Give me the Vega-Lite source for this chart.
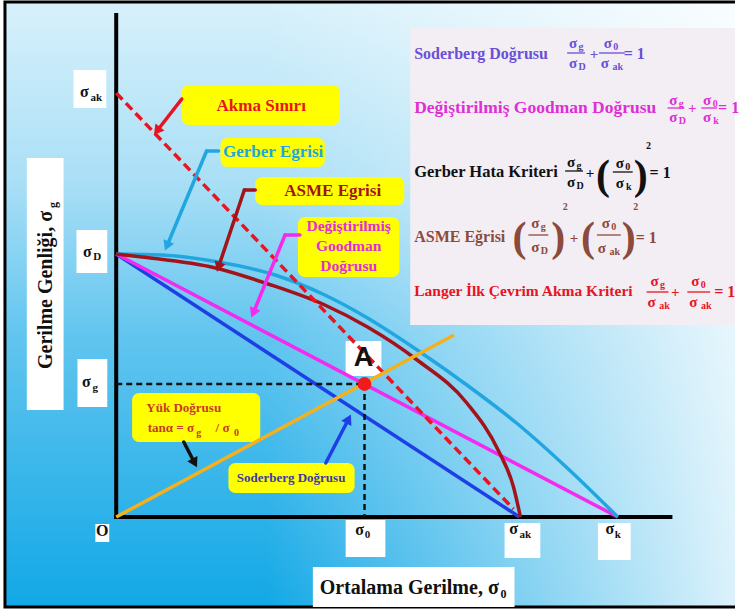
{
  "$schema": "https://vega.github.io/schema/vega-lite/v6.json",
  "width": 740,
  "height": 612,
  "padding": 0,
  "autosize": {"type": "fit", "contains": "padding"},
  "background": "#ffffff",
  "config": {
    "view": {"stroke": null},
    "text": {"font": "'Liberation Serif', 'Times New Roman', 'DejaVu Serif', serif", "fontWeight": "bold", "baseline": "middle", "align": "center"}
  },
  "encoding": {
    "x": {"field": "x", "type": "quantitative", "scale": {"domain": [-117, 623], "nice": false, "zero": false}, "axis": null},
    "y": {"field": "y", "type": "quantitative", "scale": {"domain": [-95, 517], "nice": false, "zero": false}, "axis": null}
  },
  "layer": [
    {
      "data": {"values": [{"x": -112, "x2": 640, "y": -90, "y2": 515}]},
      "mark": {"type": "rect", "clip": true, "fill": {"gradient": "linear", "x1": 0, "y1": 0, "x2": 0, "y2": 1, "stops": [
        {"offset": 0, "color": "#d8f1fb"}, {"offset": 0.3, "color": "#a9dff6"}, {"offset": 0.55, "color": "#62c5ef"}, {"offset": 1, "color": "#12a8e6"}]}},
      "encoding": {"x2": {"field": "x2"}, "y2": {"field": "y2"}}
    },
    {
      "data": {"values": [{"x": -112, "x2": 640, "y": -90, "y2": 515}]},
      "mark": {"type": "rect", "clip": true, "fill": {"gradient": "linear", "x1": 0, "y1": 0, "x2": 1, "y2": 0, "stops": [
        {"offset": 0, "color": "rgba(255,255,255,0)"}, {"offset": 0.35, "color": "rgba(255,255,255,0)"}, {"offset": 1, "color": "rgba(255,255,255,0.88)"}]}},
      "encoding": {"x2": {"field": "x2"}, "y2": {"field": "y2"}}
    },
    {
      "data": {"values": [{"x": 296, "x2": 640, "y": 192, "y2": 489}]},
      "mark": {"type": "rect", "clip": true, "fill": "#f2eef3"},
      "encoding": {"x2": {"field": "x2"}, "y2": {"field": "y2"}}
    },
    {
      "data": {"values": [{"x": -112, "x2": 640, "y": -90, "y2": 515}]},
      "mark": {"type": "rect", "clip": true, "fillOpacity": 0, "stroke": "#000000", "strokeWidth": 3},
      "encoding": {"x2": {"field": "x2"}, "y2": {"field": "y2"}}
    },
    {
      "data": {"values": [
        {"x": -43, "x2": -10, "y": 447, "y2": 409},
        {"x": -40, "x2": -9, "y": 287, "y2": 244},
        {"x": -39, "x2": -9, "y": 158, "y2": 110},
        {"x": -90, "x2": -53, "y": 359, "y2": 107},
        {"x": -21, "x2": -7, "y": -7, "y2": -25},
        {"x": 231, "x2": 271, "y": -3, "y2": -40},
        {"x": 391, "x2": 427, "y": -6, "y2": -41},
        {"x": 485, "x2": 518, "y": -6, "y2": -43},
        {"x": 198, "x2": 401, "y": -50, "y2": -90},
        {"x": 231, "x2": 267, "y": 176, "y2": 141}
      ]},
      "mark": {"type": "rect", "fill": "#ffffff"},
      "encoding": {"x2": {"field": "x2"}, "y2": {"field": "y2"}}
    },
    {
      "data": {"values": [
        {"box": "Akma", "x": 66, "x2": 225, "y": 432, "y2": 392},
        {"box": "Gerber", "x": 105, "x2": 210, "y": 379, "y2": 350},
        {"box": "ASME", "x": 140, "x2": 290, "y": 340, "y2": 312},
        {"box": "Goodman", "x": 183, "x2": 285, "y": 300, "y2": 240},
        {"box": "Yuk", "x": 16, "x2": 145, "y": 124, "y2": 75},
        {"box": "Soderberg", "x": 113, "x2": 240, "y": 54, "y2": 24}
      ]},
      "mark": {"type": "rect", "fill": "#ffff00", "cornerRadius": 7},
      "encoding": {"x2": {"field": "x2"}, "y2": {"field": "y2"}}
    },
    {
      "data": {"values": [
        {"x": 0, "y": -2, "x2": 0, "y2": 504},
        {"x": -2, "y": 0, "x2": 560, "y2": 0}
      ]},
      "mark": {"type": "rule", "color": "#000000", "strokeWidth": 4},
      "encoding": {"x2": {"field": "x2"}, "y2": {"field": "y2"}}
    },
    {
      "data": {"values": [
        {"series": "Soderberg", "ink": "soderberg", "x": 0, "y": 263},
        {"series": "Soderberg", "ink": "soderberg", "x": 406, "y": 0},
        {"series": "Goodman", "ink": "goodman", "x": 0, "y": 263},
        {"series": "Goodman", "ink": "goodman", "x": 505, "y": 0}
      ]},
      "mark": {"type": "line", "strokeWidth": 3.5},
      "encoding": {
        "color": {"field": "ink", "type": "nominal", "legend": null, "scale": {
          "domain": ["soderberg", "soderbergText", "soderbergLabel", "goodman", "goodmanText", "gerber", "asme", "asmeText", "langer", "load", "yuk", "dark"],
          "range": ["#1f3fe6", "#6b4fd8", "#3b3aa6", "#f22bef", "#df2ed6", "#21a6e0", "#a3131a", "#8b4a3b", "#e8141f", "#f5b11c", "#c83a2a", "#111111"]}},
        "detail": {"field": "series"}
      }
    },
    {
      "data": {"values": [
        {"series": "Gerber", "ink": "gerber", "x": 0, "y": 263},
        {"series": "Gerber", "ink": "gerber", "x": 46, "y": 262},
        {"series": "Gerber", "ink": "gerber", "x": 103, "y": 255},
        {"series": "Gerber", "ink": "gerber", "x": 160, "y": 242},
        {"series": "Gerber", "ink": "gerber", "x": 210, "y": 222},
        {"series": "Gerber", "ink": "gerber", "x": 253, "y": 199},
        {"series": "Gerber", "ink": "gerber", "x": 303, "y": 167},
        {"series": "Gerber", "ink": "gerber", "x": 353, "y": 132},
        {"series": "Gerber", "ink": "gerber", "x": 403, "y": 94},
        {"series": "Gerber", "ink": "gerber", "x": 453, "y": 50},
        {"series": "Gerber", "ink": "gerber", "x": 505, "y": 0},
        {"series": "ASME", "ink": "asme", "x": 0, "y": 263},
        {"series": "ASME", "ink": "asme", "x": 26, "y": 260},
        {"series": "ASME", "ink": "asme", "x": 100, "y": 249},
        {"series": "ASME", "ink": "asme", "x": 153, "y": 233},
        {"series": "ASME", "ink": "asme", "x": 210, "y": 212},
        {"series": "ASME", "ink": "asme", "x": 253, "y": 190},
        {"series": "ASME", "ink": "asme", "x": 303, "y": 157},
        {"series": "ASME", "ink": "asme", "x": 353, "y": 114},
        {"series": "ASME", "ink": "asme", "x": 385, "y": 66},
        {"series": "ASME", "ink": "asme", "x": 400, "y": 30},
        {"series": "ASME", "ink": "asme", "x": 407, "y": 0}
      ]},
      "mark": {"type": "line", "strokeWidth": 3.5, "interpolate": "monotone"},
      "encoding": {
        "color": {"field": "ink", "type": "nominal", "legend": null, "scale": {
          "domain": ["soderberg", "soderbergText", "soderbergLabel", "goodman", "goodmanText", "gerber", "asme", "asmeText", "langer", "load", "yuk", "dark"],
          "range": ["#1f3fe6", "#6b4fd8", "#3b3aa6", "#f22bef", "#df2ed6", "#21a6e0", "#a3131a", "#8b4a3b", "#e8141f", "#f5b11c", "#c83a2a", "#111111"]}},
        "detail": {"field": "series"}
      }
    },
    {
      "data": {"values": [
        {"series": "Langer", "x": 0, "y": 424},
        {"series": "Langer", "x": 400, "y": 8}
      ]},
      "mark": {"type": "line", "color": "#e8141f", "strokeWidth": 3.5, "strokeDash": [9, 5]},
      "encoding": {}
    },
    {
      "data": {"values": [{"x": 0, "y": 0, "x2": 340, "y2": 182}]},
      "mark": {"type": "rule", "color": "#f5b11c", "strokeWidth": 3.5},
      "encoding": {"x2": {"field": "x2"}, "y2": {"field": "y2"}}
    },
    {
      "data": {"values": [
        {"x": 0, "y": 133, "x2": 250, "y2": 133},
        {"x": 250, "y": 133, "x2": 250, "y2": 0}
      ]},
      "mark": {"type": "rule", "color": "#111111", "strokeWidth": 2.5, "strokeDash": [6, 4]},
      "encoding": {"x2": {"field": "x2"}, "y2": {"field": "y2"}}
    },
    {
      "data": {"values": [
        {"arrow": "akma", "ink": "langer", "x": 66, "y": 418, "x2": 41, "y2": 386},
        {"arrow": "gerber", "ink": "gerber", "x": 103, "y": 366, "x2": 91, "y2": 366},
        {"arrow": "gerber", "ink": "gerber", "x": 91, "y": 366, "x2": 51, "y2": 271},
        {"arrow": "asme", "ink": "asme", "x": 140, "y": 327, "x2": 129, "y2": 327},
        {"arrow": "asme", "ink": "asme", "x": 129, "y": 327, "x2": 103, "y2": 250},
        {"arrow": "goodman", "ink": "goodman", "x": 185, "y": 282, "x2": 170, "y2": 282},
        {"arrow": "goodman", "ink": "goodman", "x": 170, "y": 282, "x2": 138, "y2": 204},
        {"arrow": "yuk", "ink": "dark", "x": 68, "y": 75, "x2": 79, "y2": 54},
        {"arrow": "soderberg", "ink": "soderberg", "x": 211, "y": 54, "x2": 234, "y2": 98}
      ]},
      "mark": {"type": "rule", "strokeWidth": 3.5, "strokeCap": "round"},
      "encoding": {
        "x2": {"field": "x2"}, "y2": {"field": "y2"},
        "color": {"field": "ink", "type": "nominal", "legend": null, "scale": {
          "domain": ["soderberg", "soderbergText", "soderbergLabel", "goodman", "goodmanText", "gerber", "asme", "asmeText", "langer", "load", "yuk", "dark"],
          "range": ["#1f3fe6", "#6b4fd8", "#3b3aa6", "#f22bef", "#df2ed6", "#21a6e0", "#a3131a", "#8b4a3b", "#e8141f", "#f5b11c", "#c83a2a", "#111111"]}}
      }
    },
    {
      "data": {"values": [
        {"arrow": "akma", "ink": "langer", "x": 41, "y": 386, "fx": 66, "fy": 418},
        {"arrow": "gerber", "ink": "gerber", "x": 51, "y": 271, "fx": 91, "fy": 366},
        {"arrow": "asme", "ink": "asme", "x": 103, "y": 250, "fx": 129, "fy": 327},
        {"arrow": "goodman", "ink": "goodman", "x": 138, "y": 204, "fx": 170, "fy": 282},
        {"arrow": "yuk", "ink": "dark", "x": 79, "y": 54, "fx": 68, "fy": 75},
        {"arrow": "soderberg", "ink": "soderberg", "x": 234, "y": 98, "fx": 211, "fy": 54}
      ]},
      "transform": [{"calculate": "atan2(datum.x - datum.fx, datum.y - datum.fy) * 180 / PI", "as": "heading"}],
      "mark": {"type": "point", "shape": "triangle-up", "filled": true, "size": 130, "opacity": 1},
      "encoding": {
        "angle": {"field": "heading", "type": "quantitative", "scale": null},
        "color": {"field": "ink", "type": "nominal", "legend": null, "scale": {
          "domain": ["soderberg", "soderbergText", "soderbergLabel", "goodman", "goodmanText", "gerber", "asme", "asmeText", "langer", "load", "yuk", "dark"],
          "range": ["#1f3fe6", "#6b4fd8", "#3b3aa6", "#f22bef", "#df2ed6", "#21a6e0", "#a3131a", "#8b4a3b", "#e8141f", "#f5b11c", "#c83a2a", "#111111"]}}
      }
    },
    {
      "data": {"values": [{"x": 250, "y": 133}]},
      "mark": {"type": "point", "filled": true, "color": "#f21a1a", "size": 190, "opacity": 1},
      "encoding": {}
    },
    {
      "data": {"values": [
        {"ink": "soderbergText", "x": 454, "x2": 472, "y": 464, "y2": 464},
        {"ink": "soderbergText", "x": 486, "x2": 512, "y": 464, "y2": 464},
        {"ink": "goodmanText", "x": 555, "x2": 572, "y": 409, "y2": 409},
        {"ink": "goodmanText", "x": 589, "x2": 605, "y": 409, "y2": 409},
        {"ink": "dark", "x": 452, "x2": 470, "y": 346, "y2": 346},
        {"ink": "dark", "x": 500, "x2": 520, "y": 345, "y2": 345},
        {"ink": "asmeText", "x": 415, "x2": 435, "y": 282, "y2": 282},
        {"ink": "asmeText", "x": 484, "x2": 508, "y": 282, "y2": 282},
        {"ink": "langer", "x": 534, "x2": 556, "y": 225, "y2": 225},
        {"ink": "langer", "x": 575, "x2": 598, "y": 225, "y2": 225}
      ]},
      "mark": {"type": "rule", "strokeWidth": 1.3},
      "encoding": {
        "x2": {"field": "x2"}, "y2": {"field": "y2"},
        "color": {"field": "ink", "type": "nominal", "legend": null, "scale": {
          "domain": ["soderberg", "soderbergText", "soderbergLabel", "goodman", "goodmanText", "gerber", "asme", "asmeText", "langer", "load", "yuk", "dark"],
          "range": ["#1f3fe6", "#6b4fd8", "#3b3aa6", "#f22bef", "#df2ed6", "#21a6e0", "#a3131a", "#8b4a3b", "#e8141f", "#f5b11c", "#c83a2a", "#111111"]}}
      }
    },
    {
      "data": {"values": [
        {"ink": "soderbergText", "t": "σ", "x": 460, "y": 474},
        {"ink": "soderbergText", "t": "σ", "x": 460, "y": 454},
        {"ink": "soderbergText", "t": "+", "x": 481, "y": 463},
        {"ink": "soderbergText", "t": "σ", "x": 495, "y": 474},
        {"ink": "soderbergText", "t": "σ", "x": 492, "y": 454},
        {"ink": "goodmanText", "t": "σ", "x": 561, "y": 417},
        {"ink": "goodmanText", "t": "σ", "x": 561, "y": 400},
        {"ink": "goodmanText", "t": "+", "x": 580, "y": 409},
        {"ink": "goodmanText", "t": "σ", "x": 595, "y": 417},
        {"ink": "goodmanText", "t": "σ", "x": 595, "y": 400},
        {"ink": "dark", "t": "σ", "x": 458, "y": 355},
        {"ink": "dark", "t": "σ", "x": 458, "y": 335},
        {"ink": "dark", "t": "+", "x": 477, "y": 344},
        {"ink": "dark", "t": "σ", "x": 507, "y": 354},
        {"ink": "dark", "t": "σ", "x": 507, "y": 334},
        {"ink": "asmeText", "t": "σ", "x": 422, "y": 294},
        {"ink": "asmeText", "t": "σ", "x": 422, "y": 270},
        {"ink": "asmeText", "t": "+", "x": 461, "y": 279},
        {"ink": "asmeText", "t": "σ", "x": 493, "y": 294},
        {"ink": "asmeText", "t": "σ", "x": 489, "y": 269},
        {"ink": "langer", "t": "σ", "x": 542, "y": 236},
        {"ink": "langer", "t": "σ", "x": 539, "y": 215},
        {"ink": "langer", "t": "+", "x": 563, "y": 225},
        {"ink": "langer", "t": "σ", "x": 583, "y": 236},
        {"ink": "langer", "t": "σ", "x": 581, "y": 215}
      ]},
      "mark": {"type": "text", "fontSize": 15},
      "encoding": {
        "text": {"field": "t"},
        "color": {"field": "ink", "type": "nominal", "legend": null, "scale": {
          "domain": ["soderberg", "soderbergText", "soderbergLabel", "goodman", "goodmanText", "gerber", "asme", "asmeText", "langer", "load", "yuk", "dark"],
          "range": ["#1f3fe6", "#6b4fd8", "#3b3aa6", "#f22bef", "#df2ed6", "#21a6e0", "#a3131a", "#8b4a3b", "#e8141f", "#f5b11c", "#c83a2a", "#111111"]}}
      }
    },
    {
      "data": {"values": [
        {"ink": "soderbergText", "t": "g", "x": 468, "y": 470},
        {"ink": "soderbergText", "t": "D", "x": 469, "y": 450},
        {"ink": "soderbergText", "t": "0", "x": 503, "y": 470},
        {"ink": "soderbergText", "t": "ak", "x": 505, "y": 450},
        {"ink": "goodmanText", "t": "g", "x": 569, "y": 413},
        {"ink": "goodmanText", "t": "D", "x": 570, "y": 396},
        {"ink": "goodmanText", "t": "0", "x": 603, "y": 413},
        {"ink": "goodmanText", "t": "k", "x": 604, "y": 396},
        {"ink": "dark", "t": "g", "x": 466, "y": 351},
        {"ink": "dark", "t": "D", "x": 467, "y": 331},
        {"ink": "dark", "t": "0", "x": 515, "y": 350},
        {"ink": "dark", "t": "k", "x": 516, "y": 330},
        {"ink": "dark", "t": "2", "x": 536, "y": 371},
        {"ink": "asmeText", "t": "g", "x": 430, "y": 290},
        {"ink": "asmeText", "t": "D", "x": 431, "y": 266},
        {"ink": "asmeText", "t": "2", "x": 452, "y": 310},
        {"ink": "asmeText", "t": "0", "x": 501, "y": 290},
        {"ink": "asmeText", "t": "ak", "x": 502, "y": 265},
        {"ink": "asmeText", "t": "2", "x": 523, "y": 310},
        {"ink": "langer", "t": "g", "x": 550, "y": 232},
        {"ink": "langer", "t": "ak", "x": 552, "y": 211},
        {"ink": "langer", "t": "0", "x": 591, "y": 232},
        {"ink": "langer", "t": "ak", "x": 594, "y": 211},
        {"ink": "yuk", "t": "g", "x": 83, "y": 84},
        {"ink": "yuk", "t": "0", "x": 121, "y": 84}
      ]},
      "mark": {"type": "text", "fontSize": 10},
      "encoding": {
        "text": {"field": "t"},
        "color": {"field": "ink", "type": "nominal", "legend": null, "scale": {
          "domain": ["soderberg", "soderbergText", "soderbergLabel", "goodman", "goodmanText", "gerber", "asme", "asmeText", "langer", "load", "yuk", "dark"],
          "range": ["#1f3fe6", "#6b4fd8", "#3b3aa6", "#f22bef", "#df2ed6", "#21a6e0", "#a3131a", "#8b4a3b", "#e8141f", "#f5b11c", "#c83a2a", "#111111"]}}
      }
    },
    {
      "data": {"values": [
        {"ink": "dark", "t": "(", "x": 490, "y": 341},
        {"ink": "dark", "t": ")", "x": 528, "y": 341},
        {"ink": "asmeText", "t": "(", "x": 406, "y": 279},
        {"ink": "asmeText", "t": ")", "x": 445, "y": 279},
        {"ink": "asmeText", "t": "(", "x": 475, "y": 279},
        {"ink": "asmeText", "t": ")", "x": 516, "y": 279}
      ]},
      "mark": {"type": "text", "fontSize": 42, "fontWeight": "bold"},
      "encoding": {
        "text": {"field": "t"},
        "color": {"field": "ink", "type": "nominal", "legend": null, "scale": {
          "domain": ["soderberg", "soderbergText", "soderbergLabel", "goodman", "goodmanText", "gerber", "asme", "asmeText", "langer", "load", "yuk", "dark"],
          "range": ["#1f3fe6", "#6b4fd8", "#3b3aa6", "#f22bef", "#df2ed6", "#21a6e0", "#a3131a", "#8b4a3b", "#e8141f", "#f5b11c", "#c83a2a", "#111111"]}}
      }
    },
    {
      "data": {"values": [
        {"ink": "soderbergText", "t": "= 1", "x": 511, "y": 463},
        {"ink": "goodmanText", "t": "= 1", "x": 606, "y": 409},
        {"ink": "dark", "t": "= 1", "x": 537, "y": 344},
        {"ink": "asmeText", "t": "= 1", "x": 523, "y": 279},
        {"ink": "langer", "t": "= 1", "x": 602, "y": 225}
      ]},
      "mark": {"type": "text", "fontSize": 16, "align": "left"},
      "encoding": {
        "text": {"field": "t"},
        "color": {"field": "ink", "type": "nominal", "legend": null, "scale": {
          "domain": ["soderberg", "soderbergText", "soderbergLabel", "goodman", "goodmanText", "gerber", "asme", "asmeText", "langer", "load", "yuk", "dark"],
          "range": ["#1f3fe6", "#6b4fd8", "#3b3aa6", "#f22bef", "#df2ed6", "#21a6e0", "#a3131a", "#8b4a3b", "#e8141f", "#f5b11c", "#c83a2a", "#111111"]}}
      }
    },
    {
      "data": {"values": [{"t": "Soderberg Doğrusu", "x": 300, "y": 463}]},
      "mark": {"type": "text", "fontSize": 16, "align": "left", "color": "#6b4fd8"},
      "encoding": {"text": {"field": "t"}}
    },
    {
      "data": {"values": [{"t": "Değiştirilmiş Goodman Doğrusu", "x": 300, "y": 409}]},
      "mark": {"type": "text", "fontSize": 17.5, "align": "left", "color": "#df2ed6"},
      "encoding": {"text": {"field": "t"}}
    },
    {
      "data": {"values": [{"t": "Gerber Hata Kriteri", "x": 300, "y": 345}]},
      "mark": {"type": "text", "fontSize": 16.5, "align": "left", "color": "#111111"},
      "encoding": {"text": {"field": "t"}}
    },
    {
      "data": {"values": [{"t": "ASME Eğrisi", "x": 300, "y": 280}]},
      "mark": {"type": "text", "fontSize": 16, "align": "left", "color": "#8b4a3b"},
      "encoding": {"text": {"field": "t"}}
    },
    {
      "data": {"values": [{"t": "Langer İlk Çevrim Akma Kriteri", "x": 300, "y": 226}]},
      "mark": {"type": "text", "fontSize": 15.5, "align": "left", "color": "#e8141f"},
      "encoding": {"text": {"field": "t"}}
    },
    {
      "data": {"values": [
        {"t": "σ", "x": -32, "y": 425},
        {"t": "σ", "x": -29, "y": 265},
        {"t": "σ", "x": -30, "y": 135},
        {"t": "O", "x": -14, "y": -14},
        {"t": "σ", "x": 245, "y": -13},
        {"t": "σ", "x": 400, "y": -12},
        {"t": "σ", "x": 497, "y": -12}
      ]},
      "mark": {"type": "text", "fontSize": 16, "color": "#111111"},
      "encoding": {"text": {"field": "t"}}
    },
    {
      "data": {"values": [
        {"t": "ak", "x": -20, "y": 419},
        {"t": "D", "x": -19, "y": 260},
        {"t": "g", "x": -21, "y": 129},
        {"t": "0", "x": 253, "y": -18},
        {"t": "ak", "x": 412, "y": -18},
        {"t": "k", "x": 505, "y": -18}
      ]},
      "mark": {"type": "text", "fontSize": 11, "color": "#111111"},
      "encoding": {"text": {"field": "t"}}
    },
    {
      "data": {"values": [{"t": "Ortalama Gerilme, σ", "x": 295, "y": -71}]},
      "mark": {"type": "text", "fontSize": 20, "color": "#111111"},
      "encoding": {"text": {"field": "t"}}
    },
    {
      "data": {"values": [{"t": "0", "x": 390, "y": -77}]},
      "mark": {"type": "text", "fontSize": 12, "color": "#111111"},
      "encoding": {"text": {"field": "t"}}
    },
    {
      "data": {"values": [{"t": "Gerilme Genliği, σ", "x": -71, "y": 227}]},
      "mark": {"type": "text", "fontSize": 20, "angle": 270, "color": "#111111"},
      "encoding": {"text": {"field": "t"}}
    },
    {
      "data": {"values": [{"t": "g", "x": -64, "y": 312}]},
      "mark": {"type": "text", "fontSize": 12, "angle": 270, "color": "#111111"},
      "encoding": {"text": {"field": "t"}}
    },
    {
      "data": {"values": [{"t": "A", "x": 249, "y": 159}]},
      "mark": {"type": "text", "fontSize": 27, "font": "'Liberation Sans', Arial, sans-serif", "color": "#111111"},
      "encoding": {"text": {"field": "t"}}
    },
    {
      "data": {"values": [
        {"ink": "langer", "t": "Akma Sınırı", "x": 146, "y": 411},
        {"ink": "gerber", "t": "Gerber Egrisi", "x": 158, "y": 365},
        {"ink": "asme", "t": "ASME Egrisi", "x": 218, "y": 326}
      ]},
      "mark": {"type": "text", "fontSize": 17},
      "encoding": {
        "text": {"field": "t"},
        "color": {"field": "ink", "type": "nominal", "legend": null, "scale": {
          "domain": ["soderberg", "soderbergText", "soderbergLabel", "goodman", "goodmanText", "gerber", "asme", "asmeText", "langer", "load", "yuk", "dark"],
          "range": ["#1f3fe6", "#6b4fd8", "#3b3aa6", "#f22bef", "#df2ed6", "#21a6e0", "#a3131a", "#8b4a3b", "#e8141f", "#f5b11c", "#c83a2a", "#111111"]}}
      }
    },
    {
      "data": {"values": [
        {"t": "Değiştirilmiş", "x": 234, "y": 291},
        {"t": "Goodman", "x": 234, "y": 271},
        {"t": "Doğrusu", "x": 234, "y": 251}
      ]},
      "mark": {"type": "text", "fontSize": 15.5, "color": "#df2ed6"},
      "encoding": {"text": {"field": "t"}}
    },
    {
      "data": {"values": [
        {"ink": "yuk", "t": "Yük Doğrusu", "x": 68, "y": 109},
        {"ink": "yuk", "t": "tanα = σ", "x": 55, "y": 89},
        {"ink": "yuk", "t": "/  σ", "x": 107, "y": 89},
        {"ink": "soderbergLabel", "t": "Soderberg Doğrusu", "x": 176, "y": 39}
      ]},
      "mark": {"type": "text", "fontSize": 13},
      "encoding": {
        "text": {"field": "t"},
        "color": {"field": "ink", "type": "nominal", "legend": null, "scale": {
          "domain": ["soderberg", "soderbergText", "soderbergLabel", "goodman", "goodmanText", "gerber", "asme", "asmeText", "langer", "load", "yuk", "dark"],
          "range": ["#1f3fe6", "#6b4fd8", "#3b3aa6", "#f22bef", "#df2ed6", "#21a6e0", "#a3131a", "#8b4a3b", "#e8141f", "#f5b11c", "#c83a2a", "#111111"]}}
      }
    }
  ]
}
